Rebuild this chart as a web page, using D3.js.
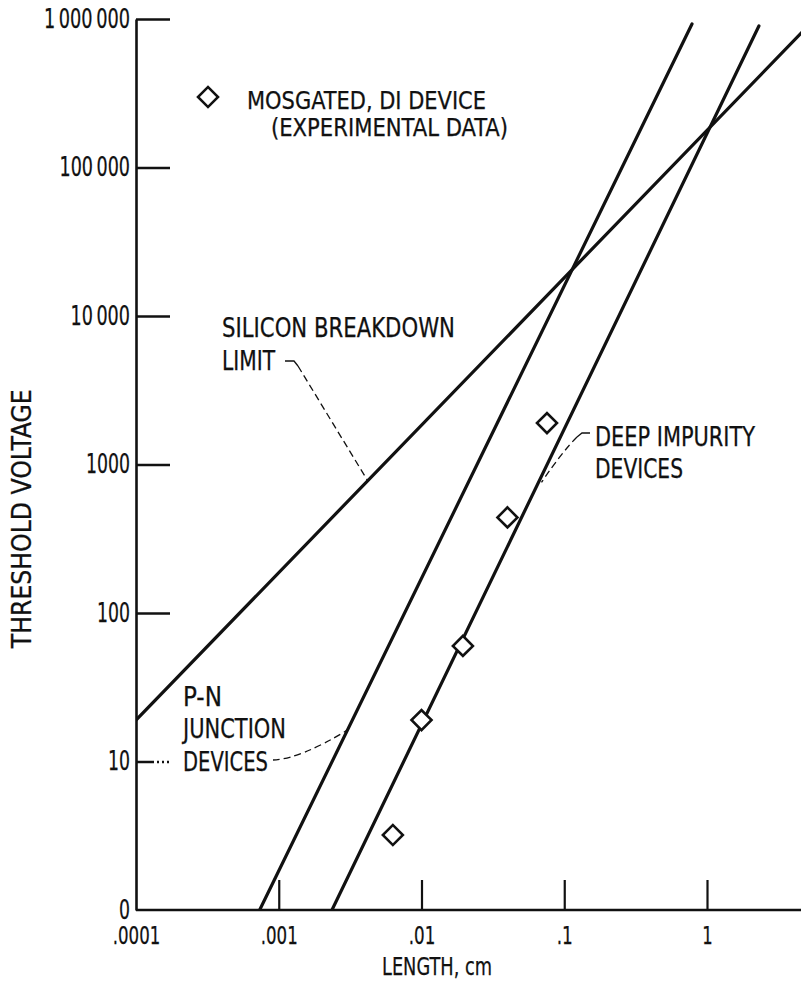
<!DOCTYPE html>
<html>
<head>
<meta charset="utf-8">
<script src="https://cdn.jsdelivr.net/npm/d3@7"></script>
<style>
  html, body { margin: 0; padding: 0; background: #fff; }
  svg { display: block; }
  text { font-family: "Liberation Sans Narrow", "DejaVu Sans Condensed", "Liberation Sans", sans-serif; fill: #111; stroke: #111; stroke-width: 0.25px; }
</style>
</head>
<body>
<svg id="chart" width="801" height="984"></svg>
<script>
// Axis ticks (length in cm, threshold voltage in volts)
const lengthTicks = [1e-4, 1e-3, 1e-2, 1e-1, 1];
const lengthTickLabels = [".0001", ".001", ".01", ".1", "1"];
const voltageTicks = [1, 10, 100, 1000, 1e4, 1e5, 1e6];
const voltageTickLabels = ["0", "10", "100", "1000", "10\u2009000", "100\u2009000", "1\u2009000\u2009000"];

// Theoretical limits (end points of each straight line on the log-log plot)
const breakdownLength = [1e-4, 4.6];
const breakdownVoltage = [19, 8.1e5];
const pnLength = [7.35e-4, 0.785];
const pnVoltage = [1, 9.25e5];
const deepLength = [2.36e-3, 2.31];
const deepVoltage = [1, 8.98e5];

// Measured MOSGATED, DI devices
const mosgatedLength = [0.0063, 0.01, 0.0195, 0.04, 0.0757];
const mosgatedVoltage = [3.2, 19, 60, 440, 1900];

const svg = d3.select("#chart");
const W = 801;

const x = d3.scaleLog().domain([1e-4, 1]).range([136, 707]);
const y = d3.scaleLog().domain([1, 1e6]).range([910, 19]);

const ink = "#111";

// narrow lettering: width from digit / space counts
function numberWidth(s) {
  let w = 0;
  for (const c of s) w += (c === "\u2009") ? 4.5 : (c === "." ? 6 : 11);
  return w;
}

// ---- axes ----
const yAxis = d3.axisLeft(y)
  .tickValues(voltageTicks)
  .tickSizeInner(-34)
  .tickSizeOuter(0)
  .tickPadding(6)
  .tickFormat((d, i) => voltageTickLabels[i]);

const gy = svg.append("g").attr("transform", `translate(${x(1e-4)},0)`).call(yAxis);
gy.select(".domain").attr("stroke", ink).attr("stroke-width", 2.6);
gy.selectAll(".tick line").attr("stroke", ink).attr("stroke-width", 2.4);
gy.selectAll(".tick text").attr("font-size", 26).attr("fill", ink)
  .attr("font-family", null)
  .attr("textLength", function () { return numberWidth(this.textContent); })
  .attr("lengthAdjust", "spacingAndGlyphs");
// baseline "0" tick has no tick mark of its own (it is the x axis)
gy.selectAll(".tick").filter(d => d === 1).select("line").remove();
// the "10" tick trails off as a dotted leader
gy.selectAll(".tick").filter(d => d === 10).select("line")
  .attr("stroke-dasharray", "18,3,2,3,2,3,2,3");

const xAxis = d3.axisBottom(x)
  .tickValues(lengthTicks)
  .tickSizeInner(-30)
  .tickSizeOuter(0)
  .tickPadding(17)
  .tickFormat((d, i) => lengthTickLabels[i]);

const gx = svg.append("g").attr("transform", `translate(0,${y(1)})`).call(xAxis);
gx.select(".domain").remove();
gx.selectAll(".tick line").attr("stroke", ink).attr("stroke-width", 2.2);
gx.selectAll(".tick").filter(d => d === 1e-4).select("line").remove();
gx.selectAll(".tick text").attr("font-size", 24).attr("fill", ink)
  .attr("font-family", null)
  .attr("textLength", function () { return numberWidth(this.textContent) * 0.95; })
  .attr("lengthAdjust", "spacingAndGlyphs");

// x axis line runs to the right edge
svg.append("line")
  .attr("x1", x(1e-4)).attr("x2", W)
  .attr("y1", y(1)).attr("y2", y(1))
  .attr("stroke", ink).attr("stroke-width", 2.6);

// axis titles
svg.append("text")
  .attr("transform", `translate(31,${(y(1e2) + y(1e3)) / 2 - 20}) rotate(-90)`)
  .attr("text-anchor", "middle")
  .attr("font-size", 26)
  .attr("textLength", 259).attr("lengthAdjust", "spacingAndGlyphs")
  .text("THRESHOLD VOLTAGE");

svg.append("text")
  .attr("x", 437).attr("y", 975)
  .attr("text-anchor", "middle")
  .attr("font-size", 24)
  .attr("textLength", 110).attr("lengthAdjust", "spacingAndGlyphs")
  .text("LENGTH, cm");

// ---- lines ----
svg.append("clipPath").attr("id", "plot")
  .append("rect").attr("x", x(1e-4)).attr("y", 0).attr("width", W - x(1e-4)).attr("height", y(1));

const line = d3.line().x(d => x(d[0])).y(d => y(d[1]));
const series = [
  d3.zip(breakdownLength, breakdownVoltage),
  d3.zip(pnLength, pnVoltage),
  d3.zip(deepLength, deepVoltage)
];
svg.append("g").attr("clip-path", "url(#plot)")
  .selectAll("path").data(series).join("path")
  .attr("d", line)
  .attr("fill", "none")
  .attr("stroke", ink)
  .attr("stroke-width", 3.2)
  .attr("stroke-linecap", "round");

// point on a straight log-log line at a given length
function onLine(lengths, volts, L) {
  const t = (Math.log10(L) - Math.log10(lengths[0])) / (Math.log10(lengths[1]) - Math.log10(lengths[0]));
  const lv = Math.log10(volts[0]) + t * (Math.log10(volts[1]) - Math.log10(volts[0]));
  return [x(L), y(Math.pow(10, lv))];
}

// ---- data points ----
const diamond = d3.symbol(d3.symbolSquare, 200);
svg.append("g").selectAll("path")
  .data(d3.zip(mosgatedLength, mosgatedVoltage))
  .join("path")
  .attr("d", diamond)
  .attr("transform", d => `translate(${x(d[0])},${y(d[1])}) rotate(45)`)
  .attr("fill", "#fff")
  .attr("stroke", ink)
  .attr("stroke-width", 2.6);

// ---- legend ----
svg.append("path")
  .attr("d", diamond)
  .attr("transform", "translate(208,97) rotate(45)")
  .attr("fill", "#fff").attr("stroke", ink).attr("stroke-width", 2.6);

function label(xp, yp, str, len, size) {
  svg.append("text").attr("x", xp).attr("y", yp).attr("font-size", size || 26)
    .attr("textLength", len).attr("lengthAdjust", "spacingAndGlyphs")
    .text(str);
}
label(247, 109, "MOSGATED, DI DEVICE", 239, 24);
label(271, 136, "(EXPERIMENTAL DATA)", 237, 24);

// ---- annotations ----
label(222, 337, "SILICON BREAKDOWN", 233);
label(222, 370, "LIMIT", 53);
label(595, 446, "DEEP IMPURITY", 160);
label(595, 478, "DEVICES", 88);
label(183, 706, "P-N", 39);
label(183, 738, "JUNCTION", 103);
label(183, 771, "DEVICES", 85);

function leaderPath(d, dash) {
  const p = svg.append("path").attr("d", d)
    .attr("fill", "none").attr("stroke", ink).attr("stroke-width", 1.3);
  if (dash) p.attr("stroke-dasharray", dash);
}

// silicon breakdown limit
const bA = onLine(breakdownLength, breakdownVoltage, 0.0042);
leaderPath(`M285,361 L294,361 L298,366`);
leaderPath(`M298,366 L${bA[0]},${bA[1]}`, "7,4");

// deep impurity devices
const dA = onLine(deepLength, deepVoltage, 0.066);
leaderPath(`M590,433 L582,433 L577,437`);
leaderPath(`M577,437 Q562,452 ${dA[0] + 3},${dA[1]}`, "7,4");

// p-n junction devices
const pA = onLine(pnLength, pnVoltage, 0.00303);
leaderPath(`M273,760 Q300,759 ${pA[0]},${pA[1]}`, "7,4");
</script>
</body>
</html>
